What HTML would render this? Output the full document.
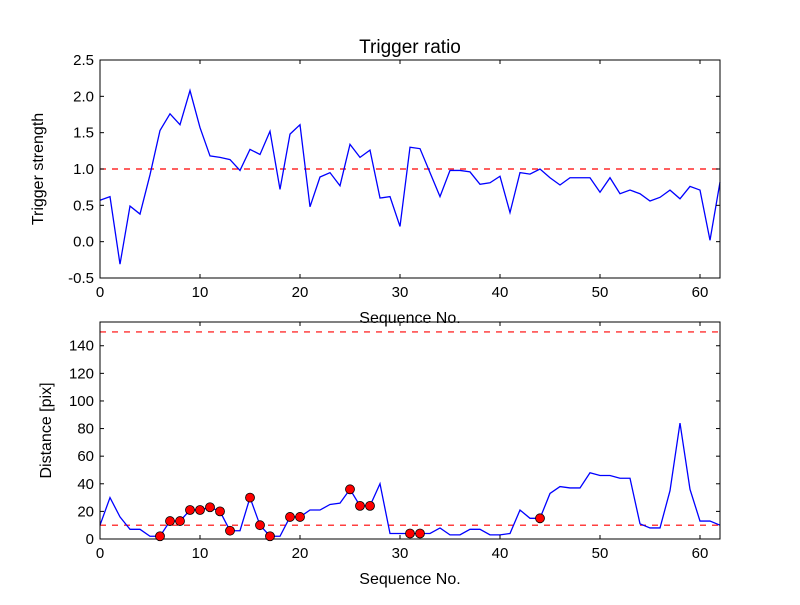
<!DOCTYPE html>
<html><head><meta charset="utf-8"><style>
body{margin:0;background:#fff;}
svg text{font-family:"Liberation Sans",sans-serif;fill:#000;}
</style></head><body>
<svg id="c" width="800" height="600" xmlns="http://www.w3.org/2000/svg">
<rect width="800" height="600" fill="#fff"/>
</svg>
<script>
const seqX = Array.from({length:63},(_,i)=>i);
const ratioValues=[0.57,0.62,-0.31,0.49,0.38,0.92,1.53,1.76,1.61,2.08,1.57,1.18,1.16,1.13,0.98,1.27,1.20,1.52,0.72,1.48,1.61,0.48,0.89,0.95,0.77,1.34,1.16,1.26,0.60,0.62,0.21,1.30,1.28,0.95,0.62,0.98,0.98,0.96,0.79,0.81,0.90,0.40,0.95,0.93,1.00,0.88,0.78,0.88,0.88,0.88,0.68,0.88,0.66,0.71,0.66,0.56,0.61,0.71,0.59,0.76,0.71,0.02,0.82];
const distValues=[10,30,16,7,7,2,2,13,13,21,21,23,20,6,6,30,10,2,2,16,16,21,21,25,26,36,24,24,40,4,4,4,4,4,8,3,3,7,7,3,3,4,21,15,15,33,38,37,37,48,46,46,44,44,11,8,8,35,84,36,13,13,10];
const markedIdx=[6,7,8,9,10,11,12,13,15,16,17,19,20,25,26,27,31,32,44];
const topTicks=[-0.5,0.0,0.5,1.0,1.5,2.0,2.5];
const botTicks=[0,20,40,60,80,100,120,140];
const xTicks=[0,10,20,30,40,50,60];
const ratioThreshold=1.0, distThresholds=[10,150];

const NS="http://www.w3.org/2000/svg";
const svg=document.getElementById('c');
function mk(tag,attrs,parent){const e=document.createElementNS(NS,tag);for(const k in attrs)e.setAttribute(k,attrs[k]);(parent||svg).appendChild(e);return e;}
const L=100,R=720;
const sx=v=>L+v/62*(R-L);
function panel(name,top,bot,ymin,ymax,ticks,fmt,vals,thr,ylabel,title,ylx){
  const sy=v=>bot-(v-ymin)/(ymax-ymin)*(bot-top);
  const g=mk('g',{});
  
  
  thr.forEach(t=>{const l=mk('line',{x1:L,x2:R,y1:sy(t),y2:sy(t),stroke:'#f00','stroke-width':1.2,'stroke-dasharray':'6,6'},g);
    });
  const p=mk('polyline',{points:vals.map((v,i)=>sx(seqX[i])+','+sy(v)).join(' '),fill:'none',stroke:'#00f','stroke-width':1.3},g);
  
  mk('rect',{x:L,y:top,width:R-L,height:bot-top,fill:'none',stroke:'#000','stroke-width':1},g);
  ticks.forEach(t=>{const y=sy(t);
    mk('line',{x1:L,x2:L+4,y1:y,y2:y,stroke:'#000'},g);mk('line',{x1:R,x2:R-4,y1:y,y2:y,stroke:'#000'},g);
    const tx=mk('text',{x:L-6,y:y+5,'text-anchor':'end','font-size':15},g);tx.textContent=fmt(t);
    });
  xTicks.forEach(t=>{const x=sx(t);
    mk('line',{x1:x,x2:x,y1:bot,y2:bot-4,stroke:'#000'},g);mk('line',{x1:x,x2:x,y1:top,y2:top+4,stroke:'#000'},g);
    const tx=mk('text',{x:x,y:bot+19,'text-anchor':'middle','font-size':15},g);tx.textContent=t;
    });
  const yl=mk('text',{x:0,y:0,'text-anchor':'middle','font-size':16,transform:`translate(${ylx},${(top+bot)/2}) rotate(-90)`},g);yl.textContent=ylabel;
  
  const xl=mk('text',{x:(L+R)/2,y:bot+45,'text-anchor':'middle','font-size':16},g);xl.textContent='Sequence No.';
  
  if(title){const tt=mk('text',{x:(L+R)/2,y:top-7,'text-anchor':'middle','font-size':19},g);tt.textContent=title;
    }
  return sy;
}
panel('trigger-ratio-panel',60,278,-0.5,2.5,topTicks,t=>t.toFixed(1),ratioValues,[ratioThreshold],'Trigger strength','Trigger ratio',43);
const sy2=panel('distance-panel',322,539,0,157.2,botTicks,t=>t,distValues,distThresholds,'Distance [pix]',null,51);
markedIdx.forEach(i=>{const c=mk('circle',{cx:sx(seqX[i]),cy:sy2(distValues[i]),r:4.5,fill:'#f00',stroke:'#000','stroke-width':0.8});
  
  });
</script>
</body></html>
